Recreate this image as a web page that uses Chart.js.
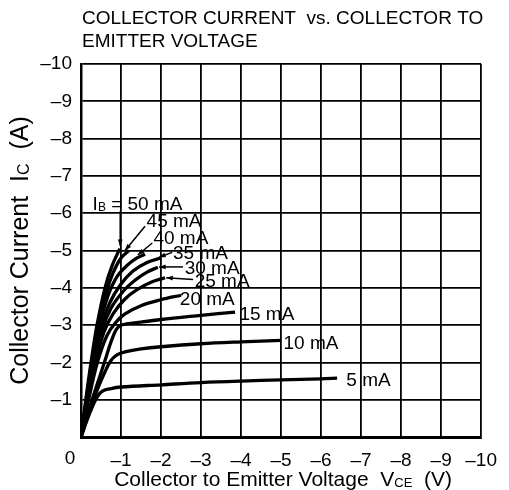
<!DOCTYPE html>
<html>
<head>
<meta charset="utf-8">
<script src="https://cdn.jsdelivr.net/npm/chart.js@4.4.1/dist/chart.umd.min.js"></script>
<style>
    html, body { margin: 0; padding: 0; background: #fff; }
</style>
</head>
<body>
<canvas id="chart" width="509" height="490"></canvas>
<script>
// 軸の目盛り (V, A) — 値はすべて負
const vceTicks = [0, -1, -2, -3, -4, -5, -6, -7, -8, -9, -10];
const icTicks = [0, -1, -2, -3, -4, -5, -6, -7, -8, -9, -10];

// 各ベース電流の曲線 [VCE, IC]
const ib50 = [[0, 0], [-0.12, -1], [-0.25, -2], [-0.4, -3], [-0.6, -4], [-0.78, -4.6], [-0.97, -5.05]];
const ib45 = [[0, 0], [-0.13, -1], [-0.27, -2], [-0.43, -3], [-0.64, -3.9], [-0.8, -4.4], [-1.0, -4.8], [-1.2, -5.0]];
const ib40 = [[0, 0], [-0.14, -1], [-0.29, -2], [-0.46, -3], [-0.68, -3.8], [-0.9, -4.3], [-1.15, -4.6], [-1.4, -4.8], [-1.6, -4.9]];
const ib35 = [[0, 0], [-0.15, -1], [-0.31, -2], [-0.49, -2.9], [-0.72, -3.6], [-1.0, -4.1], [-1.3, -4.45], [-1.65, -4.68], [-2.0, -4.8]];
const ib30 = [[0, 0], [-0.16, -1], [-0.33, -2], [-0.52, -2.85], [-0.75, -3.45], [-1.05, -3.9], [-1.35, -4.2], [-1.65, -4.42], [-1.92, -4.55]];
const ib25 = [[0, 0], [-0.17, -1], [-0.36, -2], [-0.57, -2.8], [-0.8, -3.3], [-1.1, -3.7], [-1.4, -3.95], [-1.75, -4.15], [-2.1, -4.27]];
const ib20 = [[0, 0], [-0.19, -1], [-0.41, -2], [-0.64, -2.7], [-0.85, -3.05], [-1.1, -3.3], [-1.5, -3.52], [-2.0, -3.68], [-2.5, -3.8]];
const ib15 = [[0, 0], [-0.22, -0.8], [-0.4, -1.4], [-0.6, -2.05], [-0.75, -2.55], [-0.88, -2.88], [-1.0, -3.0], [-1.5, -3.08], [-2.0, -3.15], [-3.0, -3.26], [-3.85, -3.35]];
const ib10 = [[0, 0], [-0.2, -0.65], [-0.4, -1.25], [-0.6, -1.75], [-0.75, -2.05], [-0.9, -2.2], [-1.1, -2.28], [-1.5, -2.36], [-2.0, -2.42], [-3.0, -2.5], [-4.0, -2.55], [-5.0, -2.59]];
const ib5 = [[0, 0], [-0.15, -0.45], [-0.3, -0.85], [-0.42, -1.1], [-0.55, -1.24], [-0.75, -1.3], [-1.0, -1.34], [-2.0, -1.4], [-3.0, -1.46], [-4.0, -1.5], [-5.0, -1.53], [-6.0, -1.56], [-6.4, -1.58]];

const curves = [ib50, ib45, ib40, ib35, ib30, ib25, ib20, ib15, ib10, ib5];

// 曲線ラベル（文字, 位置, 引き出し線）
const curveNotes = [
    { parts: [['I'], ['B', 1], [' = 50 mA']], at: [-0.29, -6.27], from: [-0.98, -6.05], to: [-0.98, -5.12] },
    { parts: [['45 mA']], at: [-1.64, -5.82], from: [-1.6, -5.65], to: [-1.1, -5.0] },
    { parts: [['40 mA']], at: [-1.81, -5.36], from: [-1.78, -5.2], to: [-1.42, -4.88] },
    { parts: [['35 mA']], at: [-2.3, -4.96], from: [-2.28, -4.95], to: [-1.95, -4.82] },
    { parts: [['30 mA']], at: [-2.59, -4.56], from: [-2.55, -4.56], to: [-1.95, -4.56] },
    { parts: [['25 mA']], at: [-2.84, -4.21], from: [-2.8, -4.22], to: [-2.13, -4.27] },
    { parts: [['20 mA']], at: [-2.47, -3.73] },
    { parts: [['15 mA']], at: [-3.96, -3.32] },
    { parts: [['10 mA']], at: [-5.06, -2.55] },
    { parts: [['5 mA']], at: [-6.63, -1.55] }
];

const FONT = '"Liberation Sans", Arial, sans-serif';

function drawRich(ctx, parts, x, y, size, align) {
    const mainFont = size + 'px ' + FONT;
    const subFont = Math.round(size * 0.62) + 'px ' + FONT;
    let width = 0;
    parts.forEach(function (p) {
        ctx.font = p[1] ? subFont : mainFont;
        width += ctx.measureText(p[0]).width;
    });
    let cx = align === 'center' ? x - width / 2 : x;
    ctx.textAlign = 'left';
    ctx.textBaseline = 'alphabetic';
    parts.forEach(function (p) {
        ctx.font = p[1] ? subFont : mainFont;
        ctx.fillText(p[0], cx, p[1] ? y + 1 : y);
        cx += ctx.measureText(p[0]).width;
    });
}

function drawArrow(ctx, x1, y1, x2, y2) {
    ctx.beginPath();
    ctx.moveTo(x1, y1);
    ctx.lineTo(x2, y2);
    ctx.stroke();
    const a = Math.atan2(y2 - y1, x2 - x1);
    const len = 7;
    ctx.beginPath();
    ctx.moveTo(x2, y2);
    ctx.lineTo(x2 - len * Math.cos(a - 0.35), y2 - len * Math.sin(a - 0.35));
    ctx.lineTo(x2 - len * Math.cos(a + 0.35), y2 - len * Math.sin(a + 0.35));
    ctx.closePath();
    ctx.fill();
}

const textPlugin = {
    id: 'textPlugin',
    afterDraw: function (chart) {
        const ctx = chart.ctx;
        const xs = chart.scales.x;
        const ys = chart.scales.y;
        const area = chart.chartArea;
        ctx.save();
        ctx.fillStyle = '#000';
        ctx.strokeStyle = '#000';
        ctx.lineWidth = 1.5;

        // タイトル
        ctx.font = '19px ' + FONT;
        ctx.textAlign = 'left';
        ctx.textBaseline = 'alphabetic';
        ctx.fillText('COLLECTOR CURRENT  vs. COLLECTOR TO', area.left + 1, 24);
        ctx.fillText('EMITTER VOLTAGE', area.left + 1, 47);

        // 原点の「0」
        ctx.font = '19px ' + FONT;
        ctx.textAlign = 'center';
        ctx.textBaseline = 'middle';
        ctx.fillText('0', area.left - 11, area.bottom + 22);

        // 曲線ラベルと引き出し線
        curveNotes.forEach(function (n) {
            drawRich(ctx, n.parts, xs.getPixelForValue(n.at[0]), ys.getPixelForValue(n.at[1]) + 7, 19, 'left');
            if (n.from) {
                drawArrow(ctx,
                    xs.getPixelForValue(n.from[0]), ys.getPixelForValue(n.from[1]),
                    xs.getPixelForValue(n.to[0]), ys.getPixelForValue(n.to[1]));
            }
        });

        // 軸タイトル
        drawRich(ctx, [['Collector to Emitter Voltage  V'], ['CE', 1], ['  (V)']],
            (area.left + area.right) / 2 + 2, 486, 21, 'center');

        ctx.translate(28, (area.top + area.bottom) / 2);
        ctx.rotate(-Math.PI / 2);
        drawRich(ctx, [['Collector Current  I'], ['C', 1], ['  (A)']], 0, 0, 25, 'center');
        ctx.restore();
    }
};

new Chart(document.getElementById('chart').getContext('2d'), {
    type: 'scatter',
    data: {
        datasets: curves.map(function (c) {
            return {
                data: c.map(function (p) { return { x: p[0], y: p[1] }; }),
                showLine: true,
                borderColor: '#000',
                borderWidth: 3.3,
                pointRadius: 0,
                tension: 0.35
            };
        })
    },
    options: {
        responsive: false,
        animation: false,
        layout: { padding: { top: 64, right: 19, bottom: 0, left: 0 } },
        plugins: {
            legend: { display: false },
            tooltip: { enabled: false }
        },
        scales: {
            x: {
                type: 'linear',
                min: -10,
                max: 0,
                reverse: true,
                afterBuildTicks: function (scale) {
                    scale.ticks = vceTicks.map(function (v) { return { value: v }; });
                },
                afterFit: function (scale) { scale.height = 53; },
                grid: { color: '#000', lineWidth: 1.8, drawTicks: false },
                border: { color: '#000', width: 3 },
                ticks: {
                    color: '#000',
                    padding: 12,
                    font: { family: FONT, size: 19 },
                    callback: function (v) { return v === 0 ? '' : '\u2013' + Math.abs(v); }
                }
            },
            y: {
                type: 'linear',
                min: -10,
                max: 0,
                reverse: true,
                afterBuildTicks: function (scale) {
                    scale.ticks = icTicks.map(function (v) { return { value: v }; });
                },
                afterFit: function (scale) { scale.width = 81; },
                grid: { color: '#000', lineWidth: 1.8, drawTicks: false },
                border: { color: '#000', width: 2.5 },
                ticks: {
                    color: '#000',
                    padding: 9,
                    font: { family: FONT, size: 19 },
                    callback: function (v) { return v === 0 ? '' : '\u2013' + Math.abs(v); }
                }
            }
        }
    },
    plugins: [textPlugin]
});
</script>
</body>
</html>
